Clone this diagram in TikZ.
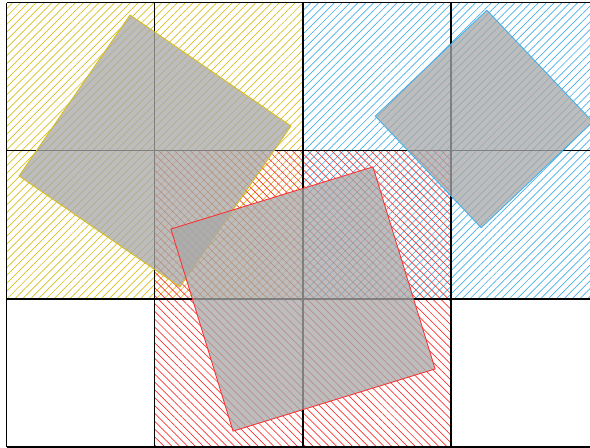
\documentclass[tikz,border=0pt]{standalone}
\usepackage{tikz,xcolor}
\usetikzlibrary{patterns.meta}
\definecolor{hatchyellow}{RGB}{215,190,30}
\definecolor{hatchblue}{RGB}{70,175,230}
\definecolor{hatchred}{RGB}{250,50,50}
\tikzset{
  % hatching of one cell
  ne hatch/.style={pattern={Lines[angle=45,distance=3.2pt,line width=0.4pt]},pattern color=#1},
  nw hatch/.style={pattern={Lines[angle=-45,distance=3.2pt,line width=0.4pt]},pattern color=#1},
  % tilted square with a see-through grey fill
  tilted square/.style={draw=#1, line width=0.5pt, fill=black!34, fill opacity=0.76},
}

\begin{document}
\begin{tikzpicture}[x=3cm,y=3cm]
  \useasboundingbox (-0.047,0) rectangle (3.939,3.02);
  % Hatch the cells
  \foreach \i/\j in {0/2,1/2,0/1,1/1}
    \fill[ne hatch=hatchyellow] (\i,\j) rectangle ++(1,1);
  \foreach \i/\j in {2/2,3/2,2/1,3/1}
    \fill[ne hatch=hatchblue] (\i,\j) rectangle ++(1,1);
  \foreach \i/\j in {1/1,2/1,1/0,2/0}
    \fill[nw hatch=hatchred] (\i,\j) rectangle ++(1,1);
  % Draw the grid
  \foreach \i in {0,...,4}
    \draw[black, line width=0.6pt] (\i,0) -- (\i,3);
  \foreach \j in {0,...,3}
    \draw[black, line width=0.6pt] (0,\j) -- (4,\j);
  % Draw the squares
  \coordinate (ycenter) at (1,2);
  \coordinate (bcenter) at (3.223,2.216);
  \coordinate (rcenter) at (2,1);
  \draw[tilted square=hatchyellow, shift={(ycenter)}]
    (100.4:0.934) -- (190.4:0.934) -- (280.4:0.934) -- (10.4:0.934) -- cycle;
  \draw[tilted square=hatchblue, shift={(bcenter)}]
    (88.5:0.735) -- (178.5:0.735) -- (268.5:0.735) -- (358.5:0.735) -- cycle;
  \draw[tilted square=hatchred, shift={(rcenter)}]
    (62.1:1.01) -- (152.1:1.01) -- (242.1:1.01) -- (332.1:1.01) -- cycle;
\end{tikzpicture}
\end{document}
